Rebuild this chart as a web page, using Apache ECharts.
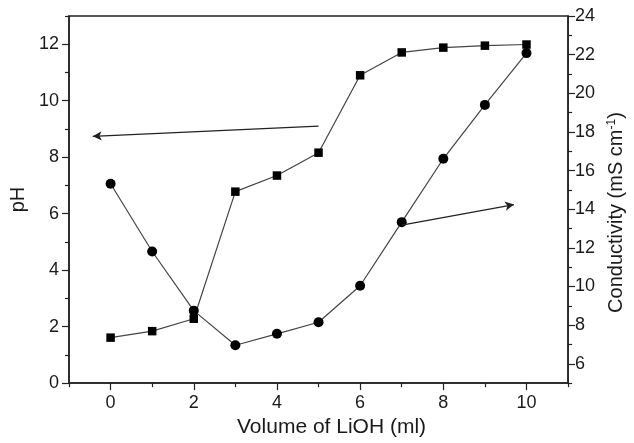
<!DOCTYPE html>
<html>
<head>
<meta charset="utf-8">
<script src="https://cdn.jsdelivr.net/npm/echarts@6/dist/echarts.min.js"></script>
<style>html,body{margin:0;padding:0;background:#fff}#c{width:634px;height:443px}</style>
</head>
<body>
<div id="c"></div>
<script>
// Data
var volume = [0, 1, 2, 3, 4, 5, 6, 7, 8, 9, 10];
var pH = [1.61, 1.84, 2.28, 6.78, 7.35, 8.16, 10.90, 11.71, 11.88, 11.95, 11.99];
var conductivity = [15.32, 11.81, 8.75, 6.96, 7.55, 8.15, 10.04, 13.33, 16.61, 19.40, 22.08];
var xMajorTicks = [0, 2, 4, 6, 8, 10];
var xMinorTicks = [-1, 1, 3, 5, 7, 9, 11];
var pHMajorTicks = [0, 2, 4, 6, 8, 10, 12];
var pHMinorTicks = [1, 3, 5, 7, 9, 11, 13];
var condMajorTicks = [6, 8, 10, 12, 14, 16, 18, 20, 22, 24];
var condMinorTicks = [5, 7, 9, 11, 13, 15, 17, 19, 21, 23];
// arrows: [start, end] in data coords
var pHArrow = [[5.0, 9.10], [-0.43, 8.74]];
var condArrow = [[7.0, 13.18], [9.70, 14.24]];

var FONT = '"Liberation Sans", Arial, sans-serif';
var TXT = '#1a1a1a';
var AX = '#222';

function pairs(xs, ys) { return xs.map(function (x, i) { return [x, ys[i]]; }); }

var chart = echarts.init(document.getElementById('c'), null, {renderer: 'canvas'});
chart.setOption({
  animation: false,
  backgroundColor: '#fff',
  grid: {left: 69, right: 59, top: 16, bottom: 52.5, show: true, borderColor: AX, borderWidth: 1.5, backgroundColor: 'transparent'},
  xAxis: [
    {
      type: 'value', min: -1, max: 11, position: 'bottom',
      name: 'Volume of LiOH (ml)', nameLocation: 'middle', nameGap: 30,
      nameTextStyle: {fontFamily: FONT, fontSize: 21, color: TXT, padding: [0, 0, 0, 26]},
      axisLine: {show: true, onZero: false, lineStyle: {color: AX, width: 1.5}},
      axisTick: {show: true, inside: false, length: 7, customValues: xMajorTicks, lineStyle: {color: AX, width: 1.2}},
      axisLabel: {show: true, customValues: xMajorTicks, margin: 11, fontFamily: FONT, fontSize: 18, color: TXT},
      splitLine: {show: false}
    },
    {
      type: 'value', min: -1, max: 11, position: 'bottom',
      axisLine: {show: false, onZero: false},
      axisTick: {show: true, inside: false, length: 4, customValues: xMinorTicks, lineStyle: {color: AX, width: 1.2}},
      axisLabel: {show: false},
      splitLine: {show: false}
    }
  ],
  yAxis: [
    {
      type: 'value', min: 0, max: 13, position: 'left',
      name: 'pH', nameLocation: 'middle', nameGap: 36,
      nameTextStyle: {fontFamily: FONT, fontSize: 20, color: TXT},
      axisLine: {show: true, onZero: false, lineStyle: {color: AX, width: 1.5}},
      axisTick: {show: true, inside: false, length: 7, customValues: pHMajorTicks, lineStyle: {color: AX, width: 1.2}},
      axisLabel: {show: true, customValues: pHMajorTicks, margin: 10, fontFamily: FONT, fontSize: 18, color: TXT},
      splitLine: {show: false}
    },
    {
      type: 'value', min: 5, max: 24, position: 'right',
      name: 'Conductivity (mS cm{sup|-1})', nameLocation: 'middle', nameGap: 33,
      nameTextStyle: {fontFamily: FONT, fontSize: 20, color: TXT, padding: [0, 26, 0, 0],
        rich: {sup: {fontFamily: FONT, fontSize: 12, color: TXT, verticalAlign: 'top', padding: [0, 0, 8, 0]}}},
      axisLine: {show: true, onZero: false, lineStyle: {color: AX, width: 1.5}},
      axisTick: {show: true, inside: false, length: 7, customValues: condMajorTicks, lineStyle: {color: AX, width: 1.2}},
      axisLabel: {show: true, customValues: condMajorTicks, margin: 7, fontFamily: FONT, fontSize: 18, color: TXT},
      splitLine: {show: false}
    },
    {
      type: 'value', min: 0, max: 13, position: 'left',
      axisLine: {show: false, onZero: false},
      axisTick: {show: true, inside: false, length: 4, customValues: pHMinorTicks, lineStyle: {color: AX, width: 1.2}},
      axisLabel: {show: false}, splitLine: {show: false}
    },
    {
      type: 'value', min: 5, max: 24, position: 'right',
      axisLine: {show: false, onZero: false},
      axisTick: {show: true, inside: false, length: 4, customValues: condMinorTicks, lineStyle: {color: AX, width: 1.2}},
      axisLabel: {show: false}, splitLine: {show: false}
    }
  ],
  series: [
    {
      type: 'line', name: 'pH', xAxisIndex: 0, yAxisIndex: 0,
      data: pairs(volume, pH),
      symbol: 'rect', symbolSize: 8.5,
      itemStyle: {color: '#000'},
      lineStyle: {color: '#444', width: 1.2},
      silent: true,
      markLine: {
        silent: true, symbol: ['none', 'arrow'], symbolSize: [7, 9],
        label: {show: false},
        lineStyle: {color: '#222', width: 1.3, type: 'solid'},
        data: [[{coord: pHArrow[0]}, {coord: pHArrow[1]}]]
      }
    },
    {
      type: 'line', name: 'Conductivity', xAxisIndex: 0, yAxisIndex: 1,
      data: pairs(volume, conductivity),
      symbol: 'circle', symbolSize: 10,
      itemStyle: {color: '#000'},
      lineStyle: {color: '#444', width: 1.2},
      silent: true,
      markLine: {
        silent: true, symbol: ['none', 'arrow'], symbolSize: [7, 9],
        label: {show: false},
        lineStyle: {color: '#222', width: 1.3, type: 'solid'},
        data: [[{coord: condArrow[0]}, {coord: condArrow[1]}]]
      }
    }
  ]
});
</script>
</body>
</html>
